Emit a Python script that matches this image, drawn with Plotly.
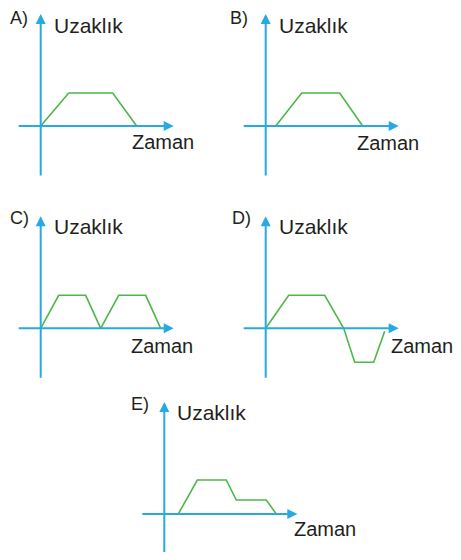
import plotly.graph_objects as go

W, H = 461, 560
OFF = 8  # default page body margin of the browser
PX = 10  # pixels per data unit

BLUE = "#27aae1"
GREEN = "#4cb848"
TEXT = "#231f20"
FONT = "Liberation Sans, Arial, sans-serif"

panel_labels = ["A)", "B)", "C)", "D)", "E)"]
y_title = "Uzaklık"
x_title = "Zaman"

# Data (time, distance) for each option
time_A = [0, 2.8, 7.2, 9.6]
dist_A = [0, 3.3, 3.3, 0]
time_B = [1.0, 3.6, 7.4, 9.7]
dist_B = [0, 3.3, 3.3, 0]
time_C = [0, 1.8, 4.5, 6.0, 7.8, 10.5, 12.0]
dist_C = [0, 3.3, 3.3, 0, 3.3, 3.3, 0]
time_D = [0, 2.3, 5.9, 7.8, 8.9, 10.8, 11.9]
dist_D = [0, 3.3, 3.3, 0, -3.4, -3.4, -0.3]
time_E = [1.4, 3.3, 6.2, 7.2, 10.2, 11.2]
dist_E = [0, 3.4, 3.4, 1.4, 1.4, 0]

times = [time_A, time_B, time_C, time_D, time_E]
dists = [dist_A, dist_B, dist_C, dist_D, dist_E]

# layout: pixel origin of each panel's axes (page pixels)
origins = [(40.7, 126), (265.7, 126), (40.7, 328.3), (265.7, 328.3), (164.3, 514)]
x_axis_span = (-2.35, 13.3)
y_axis_span = (-5.1, 11.2)

# label positions (left x, vertical centre y) in page pixels
letter_pos = [(8, 18.5), (228, 18), (8, 218), (230, 218), (129, 404)]
ytitle_pos = [(52, 25), (276.5, 25.5), (52, 226), (276.5, 226), (175, 412)]
xtitle_pos = [(130, 142), (355, 143), (129, 345.5), (388.5, 345.5), (291.5, 528.5)]

FW, FH = W - 2 * OFF, H - 2 * OFF


def paper(px, py):
    return (px - OFF) / FW, 1 - (py - OFF) / FH


fig = go.Figure()
annotations = []
layout_axes = {}
for i in range(5):
    n = i + 1
    xr = "x" if n == 1 else f"x{n}"
    yr = "y" if n == 1 else f"y{n}"
    ox, oy = origins[i][0] - OFF, origins[i][1] - OFF
    layout_axes["xaxis" if n == 1 else f"xaxis{n}"] = dict(
        domain=[0, 1], range=[-ox / PX, (FW - ox) / PX], visible=False,
        anchor=yr, fixedrange=True)
    layout_axes["yaxis" if n == 1 else f"yaxis{n}"] = dict(
        domain=[0, 1], range=[(oy - FH) / PX, oy / PX], visible=False,
        anchor=xr, fixedrange=True)

    # axes as arrows
    annotations.append(dict(x=x_axis_span[1], y=0, ax=x_axis_span[0], ay=0,
                            xref=xr, yref=yr, axref=xr, ayref=yr, text="",
                            showarrow=True, arrowhead=2, arrowsize=1.0,
                            arrowwidth=2, arrowcolor=BLUE, standoff=0))
    annotations.append(dict(x=0, y=y_axis_span[1], ax=0, ay=y_axis_span[0],
                            xref=xr, yref=yr, axref=xr, ayref=yr, text="",
                            showarrow=True, arrowhead=2, arrowsize=1.0,
                            arrowwidth=2, arrowcolor=BLUE, standoff=0))

    fig.add_trace(go.Scatter(x=times[i], y=dists[i], mode="lines",
                             line=dict(color=GREEN, width=1.6),
                             xaxis=xr, yaxis=yr, showlegend=False,
                             hoverinfo="skip", cliponaxis=False))

    for txt, pos, size in ((panel_labels[i], letter_pos[i], 18),
                           (y_title, ytitle_pos[i], 21),
                           (x_title, xtitle_pos[i], 20)):
        px_, py_ = paper(*pos)
        annotations.append(dict(x=px_, y=py_, xref="paper", yref="paper",
                                text=txt, showarrow=False, xanchor="left",
                                yanchor="middle",
                                font=dict(family=FONT, size=size, color=TEXT)))

fig.update_layout(width=FW, height=FH, margin=dict(l=0, r=0, t=0, b=0),
                  paper_bgcolor="white", plot_bgcolor="rgba(0,0,0,0)",
                  annotations=annotations, **layout_axes)

fig.write_html("out.html")
